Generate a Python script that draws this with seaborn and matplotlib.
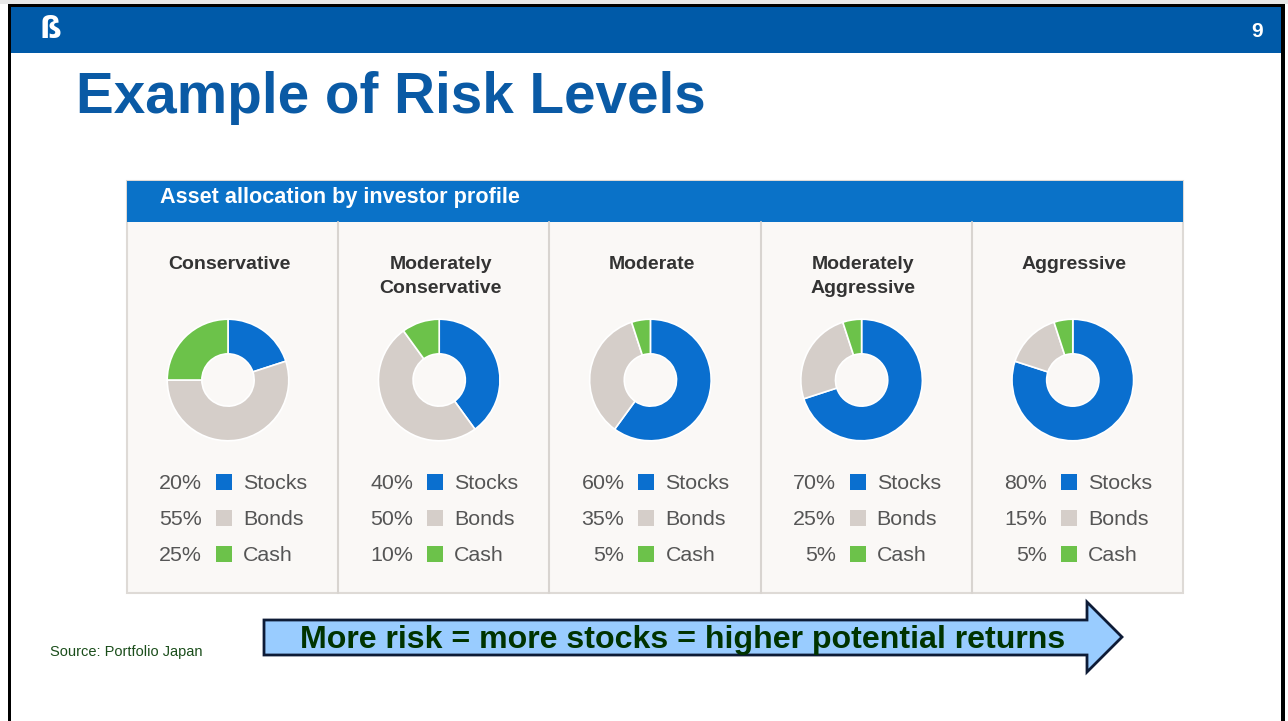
import matplotlib
matplotlib.use("Agg")
import matplotlib.pyplot as plt
import seaborn as sns
from matplotlib.patches import Rectangle, Polygon

# ---------------- data ----------------
profiles = ["Conservative", "Moderately\nConservative", "Moderate",
            "Moderately\nAggressive", "Aggressive"]
assets = ["Stocks", "Bonds", "Cash"]
stocks = [20, 40, 60, 70, 80]
bonds = [55, 50, 35, 25, 15]
cash = [25, 10, 5, 5, 5]
slide_title = "Example of Risk Levels"
panel_title = "Asset allocation by investor profile"
arrow_text = "More risk = more stocks = higher potential returns"
source_text = "Source: Portfolio Japan"
page_number = "9"

# ---------------- style ----------------
sns.set_theme(style="white")
plt.rcParams["font.family"] = ["Liberation Sans", "DejaVu Sans"]
asset_colors = ["#0a6fcf", "#d5cec9", "#6cc24a"]
sns.set_palette(asset_colors)

W, H = 1288, 721
fig = plt.figure(figsize=(W / 100, H / 100), dpi=100)
bg = fig.add_axes([0, 0, 1, 1])
bg.set_xlim(0, W)
bg.set_ylim(H, 0)
bg.axis("off")

# slide frame
bg.add_patch(Rectangle((0, 0), W, 4, color="#e8e8e8", lw=0))
bg.add_patch(Rectangle((8, 4), W - 8 - 3, 3, color="black", lw=0))
bg.add_patch(Rectangle((8, 4), 3, H, color="black", lw=0))
bg.add_patch(Rectangle((1281, 4), 4, H, color="black", lw=0))
bg.add_patch(Rectangle((11, 7), 1270, 46, color="#005aa8", lw=0))
bg.text(50, 30, "ß", color="white", fontsize=22, fontweight="bold",
        ha="center", va="center", family=["DejaVu Sans"])
bg.text(1257, 37, page_number, color="white", fontsize=15, fontweight="bold",
        ha="center", va="baseline")

bg.text(76, 113, slide_title, color="#0a5aa5", fontsize=40.8, fontweight="bold",
        ha="left", va="baseline")

# panel
px0, py0, px1, py1 = 127, 181, 1183, 593
bg.add_patch(Rectangle((px0, py0), px1 - px0, py1 - py0, facecolor="#faf8f6",
                       edgecolor="#dedad6", lw=1.5))
bg.add_patch(Rectangle((px0, py0), px1 - px0, 41, color="#0a72c8", lw=0))
bg.text(160, 203, panel_title, color="white", fontsize=15.6, fontweight="bold",
        ha="left", va="baseline")

col_w = (px1 - px0) / len(profiles)
for i in range(1, len(profiles)):
    x = px0 + i * col_w
    bg.plot([x, x], [222, py1], color="#d8d4d0", lw=1.5)

R = 62
for i, name in enumerate(profiles):
    left = px0 + i * col_w
    ccx = left + col_w / 2 - 3
    for k, line in enumerate(name.split("\n")):
        bg.text(ccx, 269 + 24 * k, line, color="#333333", fontsize=14,
                fontweight="bold", ha="center", va="baseline")
    cx, cy = left + 101, 380
    ax = fig.add_axes([(cx - R) / W, 1 - (cy + R) / H, 2 * R / W, 2 * R / H])
    vals = [stocks[i], bonds[i], cash[i]]
    ax.pie(vals, colors=asset_colors, startangle=90, counterclock=False,
           radius=1, wedgeprops=dict(width=0.57, edgecolor="white", linewidth=1.2))
    ax.set_xlim(-1.02, 1.02)
    ax.set_ylim(-1.02, 1.02)
    ax.axis("off")
    for j, (lab, v) in enumerate(zip(assets, vals)):
        y = 489 + j * 36
        bg.text(left + 75, y, f"{v}%", color="#555555", fontsize=15.4,
                ha="right", va="baseline")
        bg.add_patch(Rectangle((left + 89, y - 15), 16, 16, color=asset_colors[j], lw=0))
        bg.text(left + 116, y, lab, color="#555555", fontsize=15.4,
                ha="left", va="baseline")

# arrow
arrow_pts = [(264, 620), (1087, 620), (1087, 602), (1122, 637), (1087, 672),
             (1087, 655), (264, 655)]
bg.add_patch(Polygon(arrow_pts, closed=True, facecolor="#99ccff",
                     edgecolor="#0d1b36", lw=2))
bg.text(683, 648, arrow_text, color="#003300", fontsize=23.1, fontweight="bold",
        ha="center", va="baseline")

bg.text(50, 656, source_text, color="#1a4d1a", fontsize=10.5, ha="left", va="baseline")

fig.savefig("out.png", dpi=100)
